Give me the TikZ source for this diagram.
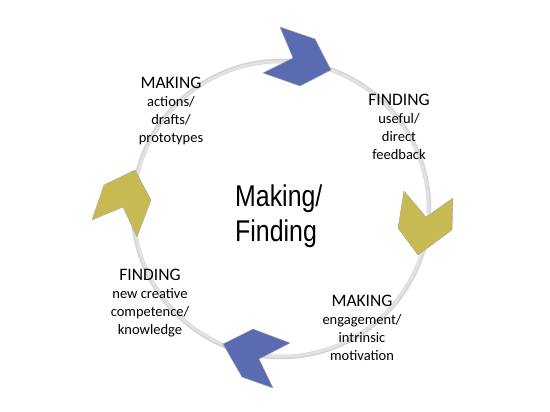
\documentclass[tikz,border=0pt]{standalone}
\usepackage{fontspec}
\setmainfont{Carlito}
\newfontfamily\helv{Liberation Sans}
\definecolor{chevblue}{RGB}{90,107,178}
\definecolor{chevgold}{RGB}{200,186,82}
\definecolor{ringgray}{RGB}{212,212,212}
\definecolor{ringlight}{RGB}{226,226,226}
\tikzset{
  ring/.style={draw=ringgray, line width=4.5pt},
  ringhi/.style={draw=ringlight, line width=2.5pt},
  chev/.style={draw=gray!70, line width=0.4pt, line join=miter},
  lbl/.style={align=center, inner sep=0pt, anchor=north, font=\fontsize{14.5}{18}\selectfont},
}
\newcommand{\hd}[1]{{\fontsize{17.5}{18}\selectfont #1}}
\begin{document}
\begin{tikzpicture}[x=1pt,y=-1pt]
\useasboundingbox[fill=white] (0,0) rectangle (550,412);
% ring
\coordinate (c) at (281,209);
\draw[ring] (c) circle [radius=148];
\draw[ringhi] (c) circle [radius=147.5];
% chevrons
\fill[chevblue, chev] (280,27) -- (315,39) -- (331,70) -- (300,86) -- (263,73) -- (293,58) -- cycle;
\fill[chevgold, chev] (404,191) -- (426,217) -- (453,198) -- (452,230) -- (418,255) -- (398,228) -- cycle;
\fill[chevblue, chev] (253,329) -- (290,343) -- (259,359) -- (273,388) -- (242,377) -- (223,344) -- cycle;
\fill[chevgold, chev] (135,170) -- (151,200) -- (137,237) -- (123,207) -- (92,220) -- (104,185) -- cycle;
% labels
\node[lbl] (tl) at (171,77) {\hd{MAKING}\\actions/\\drafts/\\prototypes};
\node[lbl] (tr) at (399,94.4) {\hd{FINDING}\\useful/\\direct\\feedback};
\node[lbl] (bl) at (150,269.4) {\hd{FINDING}\\new creative\\competence/\\knowledge};
\node[lbl] (br) at (362,295.4) {\hd{MAKING}\\engagement/\\intrinsic\\motivation};
\node[align=left, inner sep=0pt, anchor=north west, font=\helv\fontsize{30}{34.3}\selectfont] (mid) at (235,185)
  {\scalebox{0.83}[1]{Making/}\\\scalebox{0.83}[1]{Finding}};
\end{tikzpicture}
\end{document}
